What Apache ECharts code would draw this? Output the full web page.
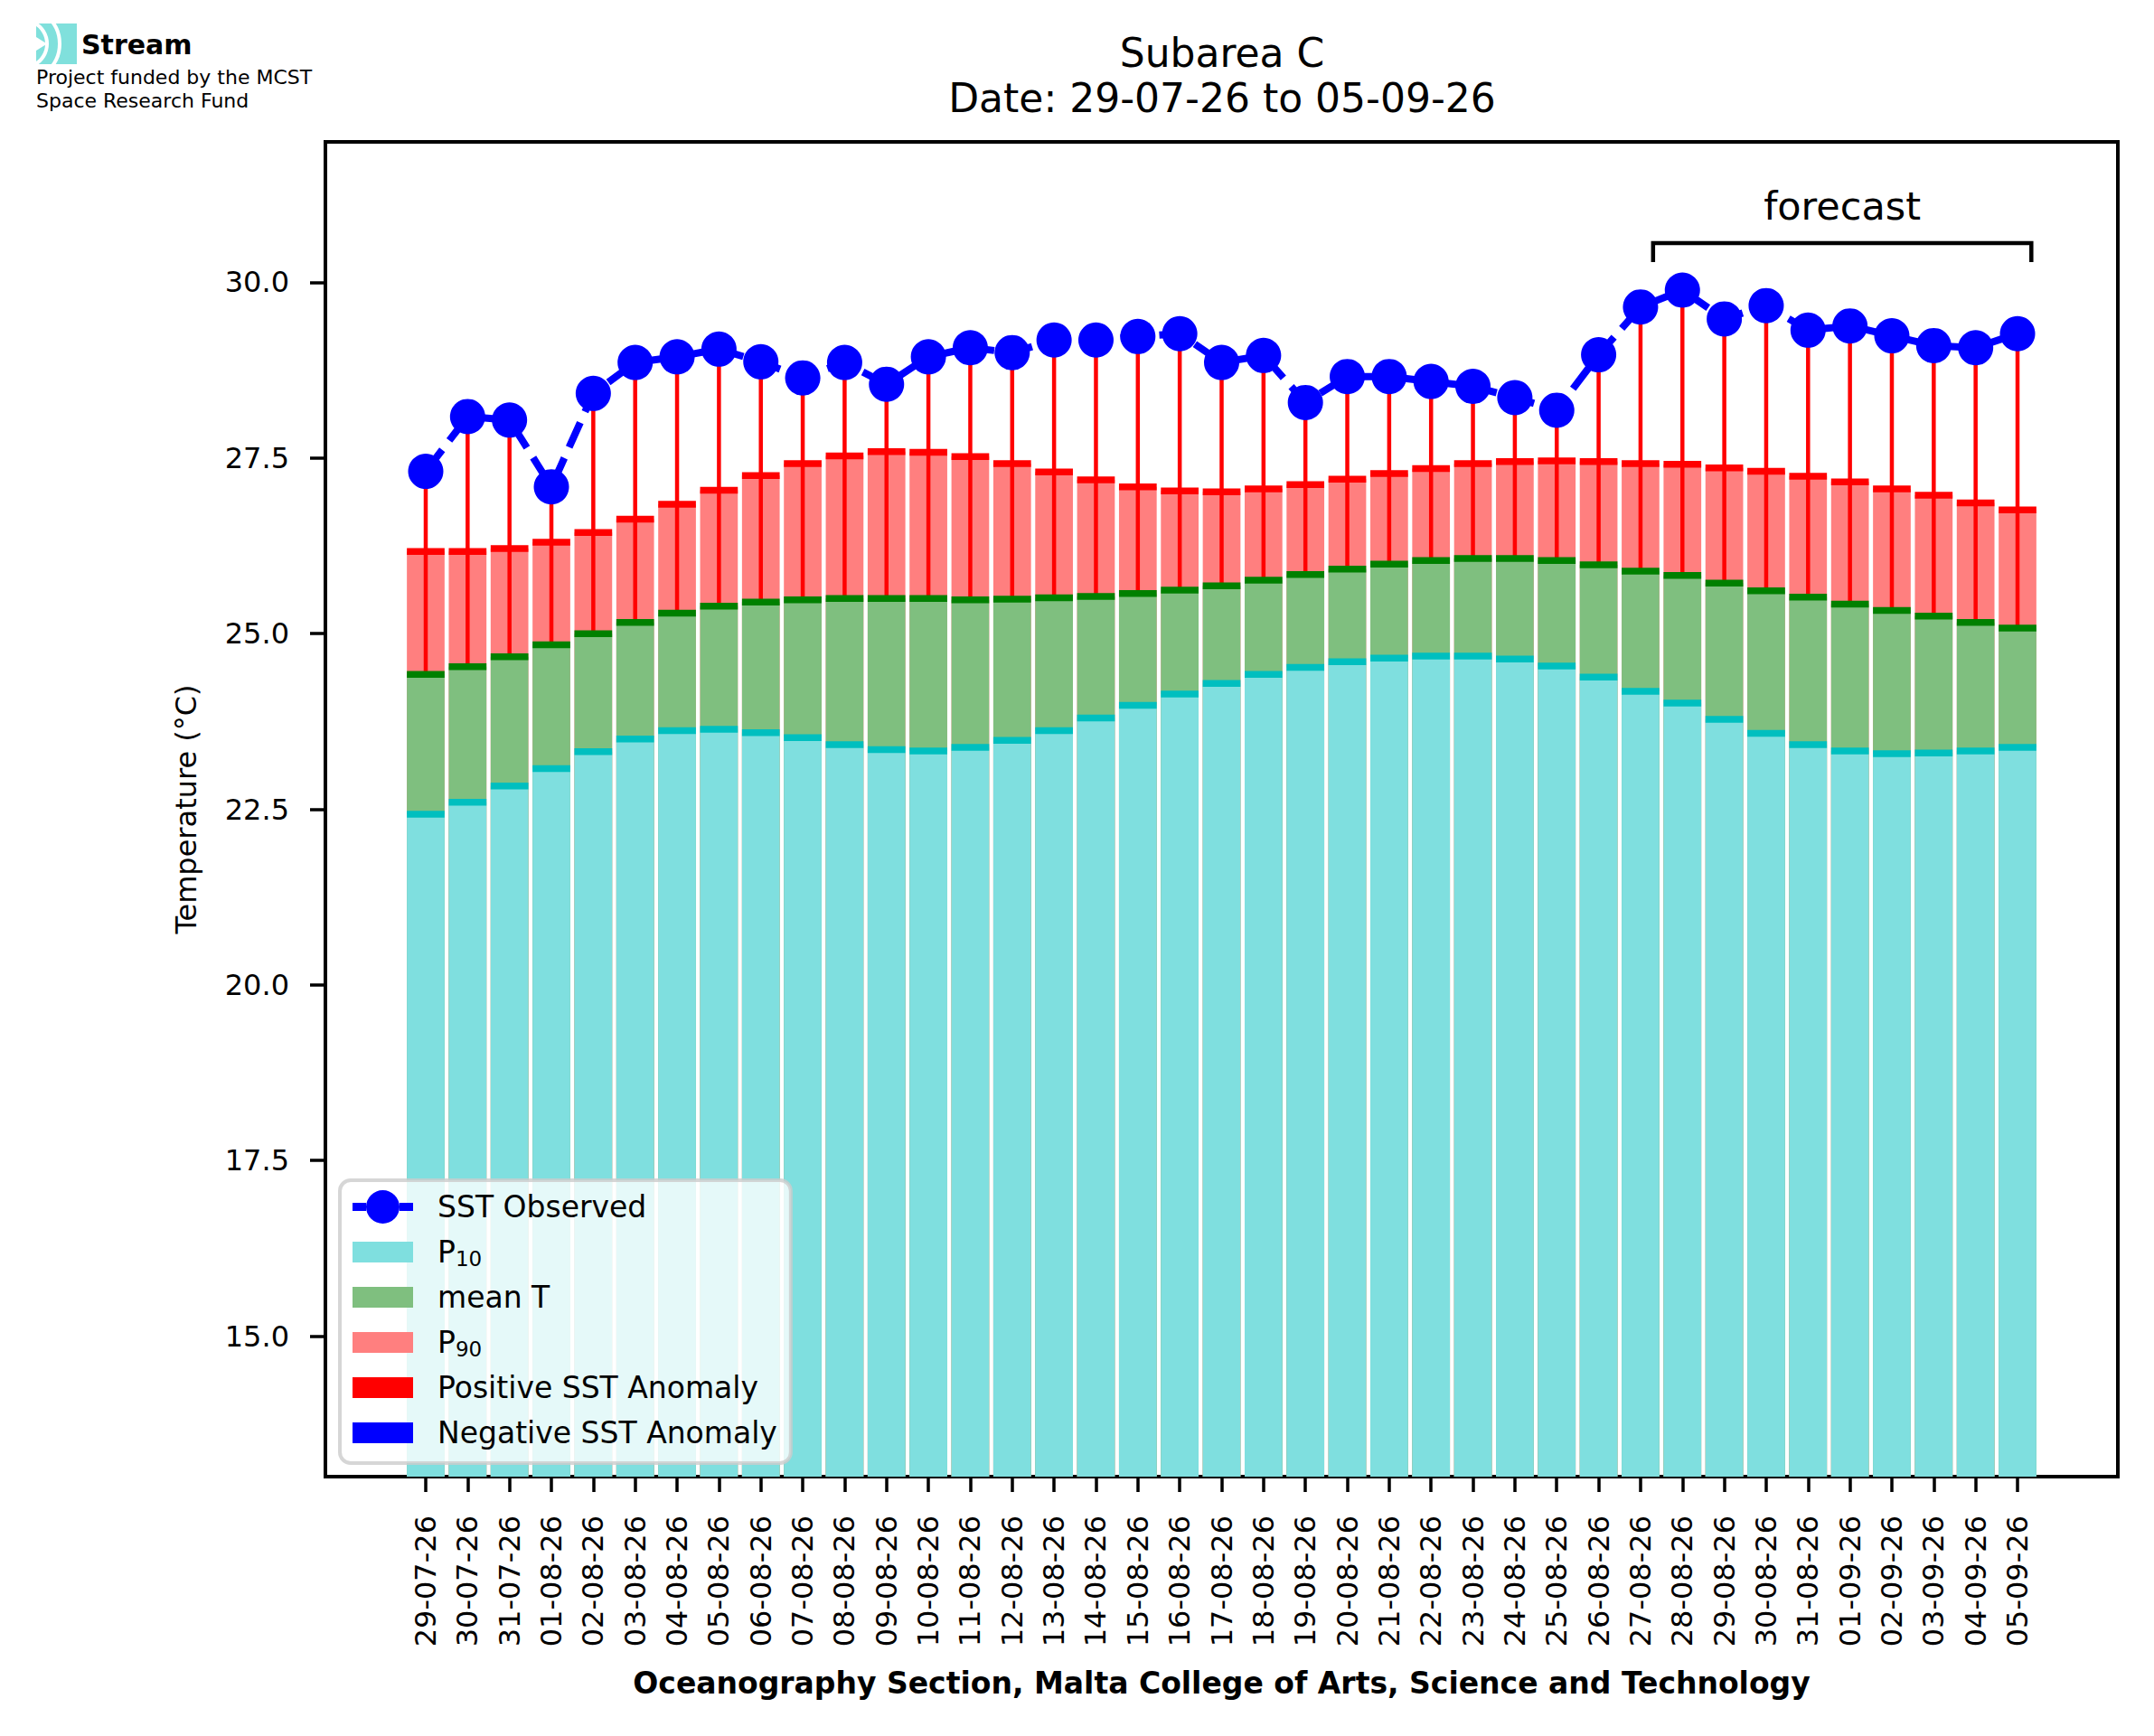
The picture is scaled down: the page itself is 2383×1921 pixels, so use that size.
<!DOCTYPE html>
<html>
<head>
<meta charset="utf-8">
<title>Subarea C</title>
<script src="https://cdn.jsdelivr.net/npm/echarts@6.0.0/dist/echarts.min.js"></script>
<style>
	html, body { margin: 0; padding: 0; background: #fff; }
	.chart { width: 2383px; height: 1921px; }
</style>
</head>
<body>
<div class="chart"></div>
<script>
// x axis categories (dd-mm-yy)
var dates = ["29-07-26", "30-07-26", "31-07-26",
	"01-08-26", "02-08-26", "03-08-26", "04-08-26", "05-08-26", "06-08-26", "07-08-26", "08-08-26",
	"09-08-26", "10-08-26", "11-08-26", "12-08-26", "13-08-26", "14-08-26", "15-08-26", "16-08-26",
	"17-08-26", "18-08-26", "19-08-26", "20-08-26", "21-08-26", "22-08-26", "23-08-26", "24-08-26",
	"25-08-26", "26-08-26", "27-08-26", "28-08-26", "29-08-26", "30-08-26", "31-08-26",
	"01-09-26", "02-09-26", "03-09-26", "04-09-26", "05-09-26"];
// climatology percentiles and mean (°C)
var p10 = [22.43, 22.60, 22.83, 23.08, 23.32, 23.50, 23.62, 23.64, 23.59, 23.52, 23.42,
	23.35, 23.33, 23.38, 23.48, 23.62, 23.80, 23.98, 24.14, 24.29, 24.42, 24.52, 24.60,
	24.65, 24.68, 24.68, 24.64, 24.54, 24.38, 24.18, 24.01, 23.78, 23.58, 23.42, 23.33,
	23.29, 23.30, 23.33, 23.38];
var meanT = [24.42, 24.53, 24.67, 24.84, 25.00, 25.16, 25.29, 25.39, 25.45, 25.48, 25.50,
	25.50, 25.50, 25.48, 25.49, 25.51, 25.53, 25.57, 25.62, 25.68, 25.76, 25.84, 25.92,
	25.99, 26.04, 26.07, 26.07, 26.04, 25.98, 25.89, 25.83, 25.72, 25.61, 25.52, 25.42,
	25.33, 25.25, 25.16, 25.08];
var p90 = [26.17, 26.17, 26.21, 26.30, 26.44, 26.63, 26.84, 27.04, 27.25, 27.42, 27.53,
	27.59, 27.58, 27.52, 27.42, 27.30, 27.19, 27.09, 27.03, 27.02, 27.06, 27.12, 27.20,
	27.28, 27.35, 27.42, 27.45, 27.46, 27.45, 27.42, 27.41, 27.36, 27.31, 27.24, 27.16,
	27.06, 26.97, 26.86, 26.76];
// observed SST (°C)
var sstObs = [27.31, 28.09, 28.04, 27.09, 28.42, 28.86, 28.94, 29.05, 28.87, 28.64, 28.86,
	28.55, 28.94, 29.07, 29.00, 29.18, 29.18, 29.23, 29.27, 28.86, 28.96, 28.29, 28.66,
	28.66, 28.59, 28.52, 28.36, 28.18, 28.97, 29.65, 29.89, 29.48, 29.67, 29.32, 29.38,
	29.24, 29.10, 29.07, 29.27];
// y tick labels
var yTicks = [15.0, 17.5, 20.0, 22.5, 25.0, 27.5, 30.0];
// forecast bracket (x in bar index units, y in °C)
var forecastX = [29.3, 38.33];
var forecastY = 30.56;

(function () {
	var font = "DejaVu Sans";
	var myChart = echarts.init(document.querySelector(".chart"), null, { renderer: "svg" });

	var idx = dates.map(function (d, i) { return i; });
	function pairs(arr) {
		return arr.map(function (v, i) { return [i, v]; });
	}
	// anomaly segments go from the mean to the observed value
	var posAnom = [], negAnom = [];
	sstObs.forEach(function (v, i) {
		if (v >= meanT[i]) posAnom.push([i, meanT[i], v]);
		else negAnom.push([i, meanT[i], v]);
	});

	var barW = 41.7;
	function anomalyItem(color) {
		return function (params, api) {
			var a = api.coord([api.value(0), api.value(1)]);
			var b = api.coord([api.value(0), api.value(2)]);
			return {
				type: "line",
				shape: { x1: a[0], y1: a[1], x2: b[0], y2: b[1] },
				style: { stroke: color, lineWidth: 4.5 }
			};
		};
	}
	function stripe(name, data, color) {
		return {
			name: name, type: "scatter", data: pairs(data), z: 4, silent: true,
			symbol: "rect", symbolSize: [barW, 7.5],
			itemStyle: { color: color, opacity: 1 }
		};
	}

	// legend icons (67 x 37 box)
	var rectIcon = "path://M0,0L0.01,0L0,0.01ZM67,37L66.99,37L67,36.99ZM0,7L67,7L67,30L0,30Z";
	var lineIcon = "path://M0,14L15,14L15,23L0,23ZM52,14L67,14L67,23L52,23Z" +
		"M52,18.5A18.5,18.5 0 1 1 15,18.5A18.5,18.5 0 1 1 52,18.5Z";

	var option = {
		animation: false,
		backgroundColor: "#fff",
		textStyle: { fontFamily: font },
		grid: {
			left: 360, right: 40, top: 157, bottom: 287,
			show: true, borderColor: "#000", borderWidth: 4
		},
		xAxis: {
			type: "value", min: -2.395, max: 40.395,
			name: "Oceanography Section, Malta College of Arts, Science and Technology",
			nameLocation: "middle", nameGap: 212,
			nameTextStyle: { fontFamily: font, fontSize: 33, fontWeight: "bold", color: "#000" },
			axisLine: { onZero: false, lineStyle: { color: "#000", width: 4 } },
			axisTick: { show: true, customValues: idx, length: 17, lineStyle: { color: "#000", width: 3.5 } },
			axisLabel: {
				customValues: idx, rotate: 90, margin: 43,
				fontFamily: font, fontSize: 32, color: "#000",
				formatter: function (v) { return dates[Math.round(v)] || ""; }
			},
			splitLine: { show: false }
		},
		yAxis: {
			type: "value", min: 13, max: 32,
			name: "Temperature (°C)", nameLocation: "middle", nameGap: 138,
			nameTextStyle: { fontFamily: font, fontSize: 32, color: "#000" },
			axisLine: { show: true, onZero: false, lineStyle: { color: "#000", width: 4 } },
			axisTick: { show: true, customValues: yTicks, length: 17, lineStyle: { color: "#000", width: 3.5 } },
			axisLabel: {
				customValues: yTicks, margin: 40,
				fontFamily: font, fontSize: 32, color: "#000",
				formatter: function (v) { return v.toFixed(1); }
			},
			splitLine: { show: false }
		},
		legend: {
			orient: "vertical", left: 376, top: 1306,
			padding: [11, 15, 15, 14],
			itemWidth: 67, itemHeight: 37, itemGap: 13,
			backgroundColor: "rgba(255,255,255,0.8)",
			borderColor: "rgba(204,204,204,0.8)", borderWidth: 4, borderRadius: 12,
			selectedMode: false, z: 10,
			textStyle: {
				fontFamily: font, fontSize: 33, color: "#000", lineHeight: 37,
				padding: [0, 0, 0, 22],
				rich: {
					n: { fontFamily: font, fontSize: 33, lineHeight: 37, color: "#000" },
					s: { fontFamily: font, fontSize: 23, lineHeight: 20, verticalAlign: "bottom", color: "#000" }
				}
			},
			formatter: function (name) {
				if (name === "P10") return "{n|P}{s|10}";
				if (name === "P90") return "{n|P}{s|90}";
				return name;
			},
			data: [
				{ name: "SST Observed", icon: lineIcon },
				{ name: "P10", icon: rectIcon },
				{ name: "mean T", icon: rectIcon },
				{ name: "P90", icon: rectIcon },
				{ name: "Positive SST Anomaly", icon: rectIcon },
				{ name: "Negative SST Anomaly", icon: rectIcon }
			]
		},
		graphic: [
			// logo
			{ type: "rect", shape: { x: 40, y: 26, width: 45, height: 45 }, style: { fill: "#80e0dc" } },
			{ type: "arc", shape: { cx: 26, cy: 48.5, r: 26, startAngle: -1.1, endAngle: 1.1 }, style: { stroke: "#fff", lineWidth: 4, fill: null } },
			{ type: "arc", shape: { cx: 26, cy: 48.5, r: 40, startAngle: -0.9, endAngle: 0.9 }, style: { stroke: "#fff", lineWidth: 4, fill: null } },
			{ type: "polygon", shape: { points: [[40, 41], [52, 48.5], [40, 56]] }, style: { fill: "#fff" } },
			{ type: "text", x: 90, y: 49, style: { text: "Stream", fontFamily: font, fontSize: 30, fontWeight: "bold", fill: "#000", verticalAlign: "middle" } },
			{ type: "text", x: 40, y: 85, style: { text: "Project funded by the MCST", fontFamily: font, fontSize: 22, fill: "#000", verticalAlign: "middle" } },
			{ type: "text", x: 40, y: 111, style: { text: "Space Research Fund", fontFamily: font, fontSize: 22, fill: "#000", verticalAlign: "middle" } },
			// title
			{ type: "text", x: 1352, y: 58, style: { text: "Subarea C", fontFamily: font, fontSize: 44, fill: "#000", align: "center", verticalAlign: "middle" } },
			{ type: "text", x: 1352, y: 108, style: { text: "Date: 29-07-26 to 05-09-26", fontFamily: font, fontSize: 44, fill: "#000", align: "center", verticalAlign: "middle" } }
		],
		series: [
			{
				name: "P90", type: "bar", data: pairs(p90), barWidth: barW, barGap: "-100%", z: 2,
				itemStyle: { color: "#ff7f7f" }
			},
			{
				name: "mean T", type: "bar", data: pairs(meanT), barWidth: barW, barGap: "-100%", z: 2,
				itemStyle: { color: "#7fbf7f" }
			},
			{
				name: "P10", type: "bar", data: pairs(p10), barWidth: barW, barGap: "-100%", z: 2,
				itemStyle: { color: "#7fdfdf" }
			},
			{
				name: "Positive SST Anomaly", type: "custom", data: posAnom, z: 3,
				encode: { x: 0, y: [1, 2] },
				itemStyle: { color: "#ff0000" },
				renderItem: anomalyItem("#ff0000")
			},
			{
				name: "Negative SST Anomaly", type: "custom", data: negAnom, z: 3,
				encode: { x: 0, y: [1, 2] },
				itemStyle: { color: "#0000ff" },
				renderItem: anomalyItem("#0000ff")
			},
			stripe("p10 edge", p10, "#00bfbf"),
			stripe("mean edge", meanT, "#008000"),
			stripe("p90 edge", p90, "#ff0000"),
			{
				name: "SST Observed", type: "line", data: pairs(sstObs), z: 5,
				symbol: "circle", symbolSize: 39, showAllSymbol: true,
				lineStyle: { color: "#0000ff", width: 8, type: [30, 13] },
				itemStyle: { color: "#0000ff", borderWidth: 0 }
			},
			{
				// forecast bracket
				name: "forecast", type: "custom", z: 5, silent: true,
				data: [[forecastX[0], forecastX[1], forecastY]],
				encode: { x: [0, 1], y: 2 },
				renderItem: function (params, api) {
					var a = api.coord([api.value(0), api.value(2)]);
					var b = api.coord([api.value(1), api.value(2)]);
					return {
						type: "group",
						children: [
							{
								type: "polyline",
								shape: { points: [[a[0], a[1] + 21], [a[0], a[1]], [b[0], b[1]], [b[0], b[1] + 21]] },
								style: { stroke: "#000", lineWidth: 4.5, fill: null }
							},
							{
								type: "text",
								x: (a[0] + b[0]) / 2, y: a[1] - 41,
								style: { text: "forecast", fontFamily: font, fontSize: 43, fill: "#000", align: "center", verticalAlign: "middle" }
							}
						]
					};
				}
			}
		]
	};

	myChart.setOption(option);
	window.addEventListener("resize", function () {
		myChart.resize();
	});
})();
</script>
</body>
</html>
